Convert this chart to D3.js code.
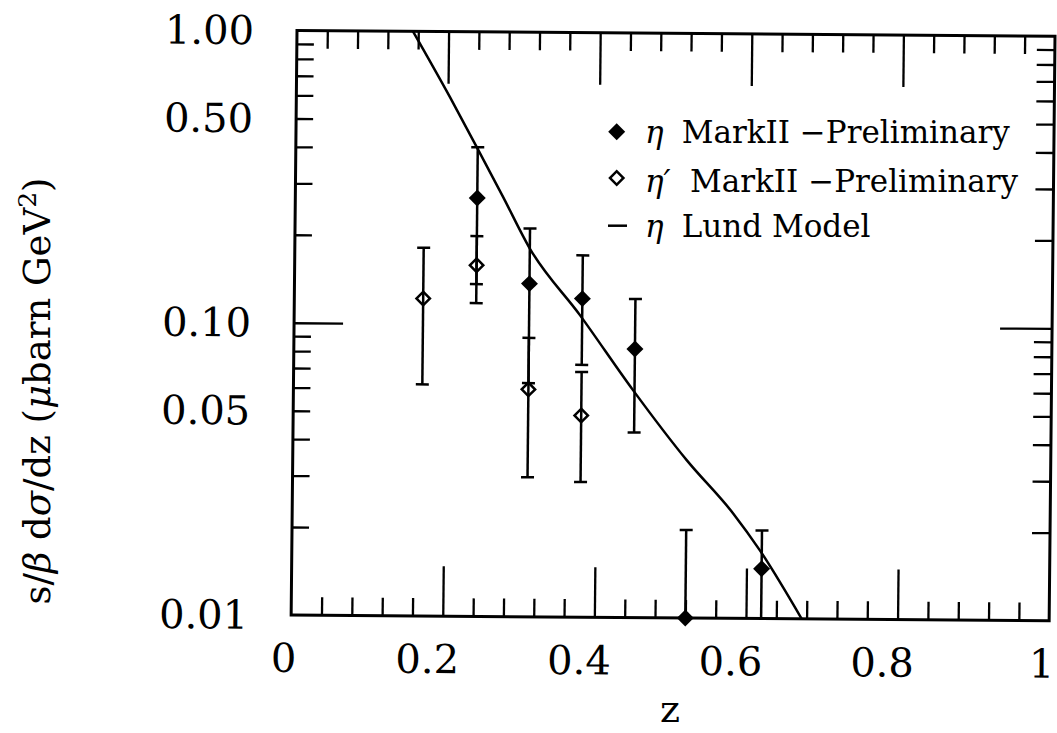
<!DOCTYPE html>
<html><head><meta charset="utf-8">
<script src="https://cdn.jsdelivr.net/npm/d3@7"></script>
<style>
html,body{margin:0;padding:0;background:#fff;}
svg{display:block;font-family:"DejaVu Serif",serif;}
</style>
</head><body>
<svg id="c" width="1057" height="733"></svg>
<script>
// ---- data ----
const etaZ    = [0.24, 0.31, 0.38, 0.45, 0.52, 0.62];
const etaVal  = [0.270, 0.138, 0.123, 0.083, 0.0100, 0.0148];
const etaErr  = [0.133, 0.075, 0.050, 0.040, 0.0100, 0.0052];
const etapZ   = [0.17, 0.24, 0.31, 0.38];
const etapVal = [0.122, 0.159, 0.060, 0.049];
const etapErr = [0.060, 0.041, 0.030, 0.020];
const lundZ   = [0.153, 0.2025, 0.2385, 0.274, 0.310, 0.377, 0.448, 0.520, 0.582, 0.6175, 0.6735];
const lundVal = [1.0, 0.598, 0.404, 0.273, 0.182, 0.108, 0.060, 0.0346, 0.0228, 0.0171, 0.0100];
const xTickLabels = [0, 0.2, 0.4, 0.6, 0.8, 1];
const yTickLabels = [1, 0.5, 0.1, 0.05, 0.01];
const xMajorTicks = [0.2, 0.4, 0.6, 0.8];
const yMajorTicks = [0.1];
const legendNames = ["MarkII \u2212Preliminary", "MarkII \u2212Preliminary", "Lund Model"];
const legendSymbols = ["\u03B7", "\u03B7\u2032", "\u03B7"];

// ---- layout ----
const ox = 297, oy = 30.5, W = 758, H = 584.5;
const kx = -0.010, ky = 0.0075;   // slight scan skew of the original figure
const FONT = "DejaVu Serif";

const svg = d3.select("#c");
svg.append("rect").attr("width",1057).attr("height",733).attr("fill","#fff");

const g = svg.append("g").attr("transform", `matrix(1,${ky},${kx},1,${ox},${oy})`);

const x = d3.scaleLinear().domain([0,1]).range([0,W]);
const y = d3.scaleLog().domain([0.01,1]).range([H,0]);

g.append("clipPath").attr("id","clip").append("rect")
  .attr("x",0).attr("y",0).attr("width",W).attr("height",H);

// ---- ticks ----
const minorX = d3.range(1,25).map(i=>+(i*0.04).toFixed(2))
  .filter(v=>Math.abs(v/0.2-Math.round(v/0.2))>1e-6);
const minorY = d3.range(2,10).map(k=>k*0.01).concat(d3.range(2,10).map(k=>k*0.1));

function ticks(axisFn, scale, vals, size, tr){
  g.append("g").attr("transform",tr)
    .call(axisFn(scale).tickValues(vals).tickSize(size).tickFormat(""))
    .call(s=>{
      s.select(".domain").remove();
      s.selectAll("text").remove();
      s.selectAll("line").attr("stroke","#000").attr("stroke-width",2.3);
    });
}
ticks(d3.axisBottom, x, minorX, -18, `translate(0,${H})`);
ticks(d3.axisBottom, x, xMajorTicks, -50, `translate(0,${H})`);
ticks(d3.axisTop, x, minorX, -18, `translate(0,0)`);
ticks(d3.axisTop, x, xMajorTicks, -52, `translate(0,0)`);
ticks(d3.axisLeft, y, minorY, -17, `translate(0,0)`);
ticks(d3.axisLeft, y, yMajorTicks, -49, `translate(0,0)`);
ticks(d3.axisRight, y, minorY, -18, `translate(${W},0)`);
ticks(d3.axisRight, y, yMajorTicks, -52, `translate(${W},0)`);

// frame
g.append("rect").attr("x",0).attr("y",0).attr("width",W).attr("height",H)
  .attr("fill","none").attr("stroke","#000").attr("stroke-width",3);

// tick labels
const xFmt = v => (v===0||v===1) ? String(v) : d3.format(".1f")(v);
g.append("g").selectAll("text").data(xTickLabels).join("text")
  .attr("x", d => x(d) - (xFmt(d).length>1 ? 15 : 7))
  .attr("y", H + 57)
  .attr("text-anchor","middle")
  .attr("font-family",FONT).attr("font-size",40).attr("fill","#000")
  .text(xFmt);
g.append("g").selectAll("text").data(yTickLabels).join("text")
  .attr("x", -43)
  .attr("y", d => y(d) + 14)
  .attr("text-anchor","end")
  .attr("font-family",FONT).attr("font-size",40).attr("fill","#000")
  .text(d3.format(".2f"));

// ---- data layer ----
const dl = g.append("g");
const clipped = dl.append("g").attr("clip-path","url(#clip)");

// Lund model curve
const lund = lundZ.map((z,i)=>[z,lundVal[i]]);
clipped.append("path").datum(lund)
  .attr("d", d3.line().x(d=>x(d[0])).y(d=>y(d[1])).curve(d3.curveMonotoneX))
  .attr("fill","none").attr("stroke","#000").attr("stroke-width",2.5);

function errorBars(zs, vs, es){
  zs.forEach((z,i)=>{
    const v = vs[i], e = es[i];
    const hi = v + e, lo = v - e;
    const xp = x(z);
    const yl = lo > 0 ? y(lo) : H + 50;
    clipped.append("line").attr("x1",xp).attr("x2",xp)
      .attr("y1",y(hi)).attr("y2",yl)
      .attr("stroke","#000").attr("stroke-width",2.5);
    clipped.append("line").attr("x1",xp-6.5).attr("x2",xp+6.5)
      .attr("y1",y(hi)).attr("y2",y(hi))
      .attr("stroke","#000").attr("stroke-width",2.5);
    if (lo >= 0.01) {
      clipped.append("line").attr("x1",xp-6.5).attr("x2",xp+6.5)
        .attr("y1",yl).attr("y2",yl)
        .attr("stroke","#000").attr("stroke-width",2.5);
    }
  });
}
errorBars(etaZ, etaVal, etaErr);
errorBars(etapZ, etapVal, etapErr);

const filledSym = d3.symbol(d3.symbolSquare, 144);
const openSym = d3.symbol(d3.symbolSquare, 90);
dl.append("g").selectAll("path").data(etaZ.map((z,i)=>[z,etaVal[i]])).join("path")
  .attr("d", filledSym)
  .attr("transform", d=>`translate(${x(d[0])},${y(d[1])}) rotate(45)`)
  .attr("fill","#000");
dl.append("g").selectAll("path").data(etapZ.map((z,i)=>[z,etapVal[i]])).join("path")
  .attr("d", openSym)
  .attr("transform", d=>`translate(${x(d[0])},${y(d[1])}) rotate(45)`)
  .attr("fill","none").attr("stroke","#000").attr("stroke-width",2.5);

// ---- legend ----
const leg = svg.append("g");
const rowY = [143.3, 191.7, 236.7];
leg.append("path").attr("d", filledSym)
  .attr("transform",`translate(616.7,131.7) rotate(45)`).attr("fill","#000");
leg.append("path").attr("d", openSym)
  .attr("transform",`translate(616.7,178) rotate(45)`)
  .attr("fill","none").attr("stroke","#000").attr("stroke-width",2.5);
leg.append("line").attr("x1",608).attr("x2",627).attr("y1",225.7).attr("y2",225.7)
  .attr("stroke","#000").attr("stroke-width",2.5);
const nameX = [681.7, 690, 681.7];
legendNames.forEach((n,i)=>{
  leg.append("text").attr("x",645).attr("y",rowY[i])
    .attr("font-family",FONT).attr("font-size",31).attr("font-style","italic").attr("fill","#000")
    .text(legendSymbols[i]);
  leg.append("text").attr("x",nameX[i]).attr("y",rowY[i])
    .attr("font-family",FONT).attr("font-size",31).attr("fill","#000")
    .text(n);
});

// ---- axis titles ----
svg.append("text").attr("x",670).attr("y",722).attr("text-anchor","middle")
  .attr("font-family",FONT).attr("font-size",38).attr("fill","#000").text("z");

const yt = svg.append("text")
  .attr("transform","translate(50,391) rotate(-90)")
  .attr("text-anchor","middle")
  .attr("font-family",FONT).attr("font-size",37).attr("fill","#000");
yt.append("tspan").text("s/");
yt.append("tspan").attr("font-style","italic").text("\u03B2");
yt.append("tspan").text(" d");
yt.append("tspan").attr("font-style","italic").text("\u03C3");
yt.append("tspan").text("/dz (");
yt.append("tspan").attr("font-style","italic").text("\u03BC");
yt.append("tspan").text("barn GeV");
yt.append("tspan").attr("font-size",25).attr("dy",-14).text("2");
yt.append("tspan").attr("dy",14).text(")");
</script>
</body></html>
